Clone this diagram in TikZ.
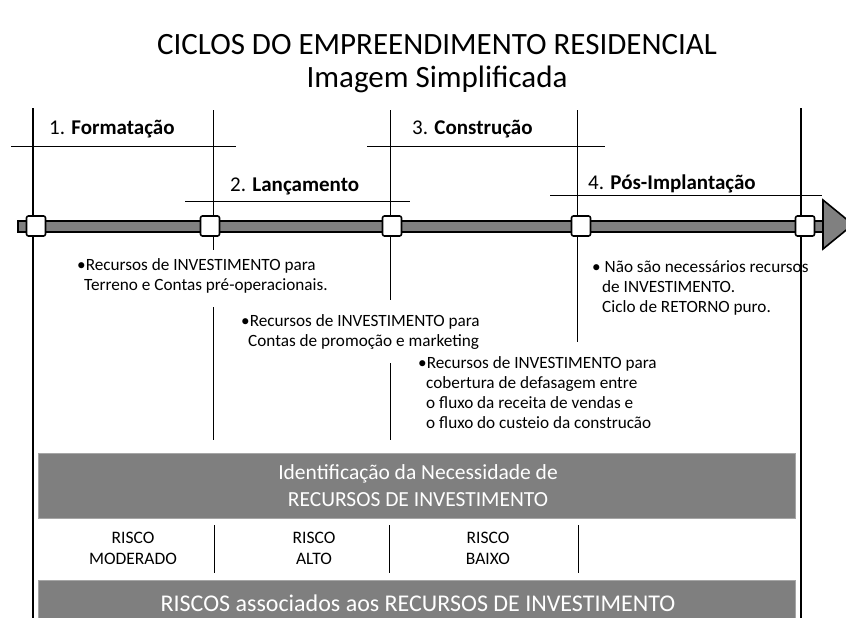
\documentclass[tikz,border=0pt]{standalone}
\usepackage{fontspec}
\setmainfont{Carlito}
\definecolor{bargray}{HTML}{808080}
\definecolor{boxgray}{HTML}{7F7F7F}
\definecolor{bandedge}{HTML}{A6A6A6}
\begin{document}
\begin{tikzpicture}[x=1pt,y=-1pt,
  thinline/.style={line width=0.8pt},
  thickline/.style={line width=2.6pt},
  milestone/.style={draw=black, line width=1.6pt, fill=white, minimum width=19pt, minimum height=20pt, rounded corners=2pt, inner sep=0pt},
  phase/.style={anchor=west, inner sep=0pt, font=\fontsize{21}{25}\selectfont},
  body/.style={anchor=north west, inner sep=0pt, align=left, font=\fontsize{17.2}{20}\selectfont},
  band/.style={fill=boxgray, draw=bandedge, line width=1pt},
  bandtext/.style={text=white, align=center, inner sep=0pt},
  risk/.style={align=center, inner sep=0pt, font=\fontsize{17.5}{21}\selectfont},
  title/.style={inner sep=0pt, font=\fontsize{31}{36}\selectfont}
  ]
\useasboundingbox (0,0) rectangle (846,618);
\clip (0,0) rectangle (846,618);

% title
\node[title] (t1) at (437,45) {CICLOS DO EMPREENDIMENTO RESIDENCIAL};
\node[title] (t2) at (437,79) {Imagem Simplificada};

% frame verticals
\draw[thickline] (33,108) -- (33,618);
\draw[thickline] (801,108) -- (801,618);

% phase separators and underlines
\draw[thinline] (11,146) -- (236,146);
\draw[thinline] (367,146) -- (605,146);
\draw[thinline] (185,201) -- (410,201);
\draw[thinline] (550,195) -- (822,195);
\draw[thinline] (213,110) -- (213,250);
\draw[thinline] (213,307) -- (213,440);
\draw[thinline] (390,110) -- (390,300);
\draw[thinline] (390,363) -- (390,440);
\draw[thinline] (577,110) -- (577,342);

% phase labels
\node[phase] (p1) at (49,129) {1. \textbf{Formatação}};
\node[phase] (p2) at (230,186) {2. \textbf{Lançamento}};
\node[phase] (p3) at (412,129) {3. \textbf{Construção}};
\node[phase] (p4) at (588,184) {4. \textbf{Pós-Implantação}};

% timeline bar and arrow
\draw[fill=bargray, line width=1.6pt] (18,221) rectangle (824,232);
\draw[fill=bargray, line width=1.6pt, line join=miter] (823,200) -- (853,224.5) -- (823,249) -- cycle;

% milestones
\node[milestone] (m1) at (36,226) {};
\node[milestone] (m2) at (210,226) {};
\node[milestone] (m3) at (392,226) {};
\node[milestone] (m4) at (581,226) {};
\node[milestone] (m5) at (805,226) {};

% description texts
\node[body] (d1) at (77,258) {•Recursos de INVESTIMENTO para\\\hspace*{7pt}Terreno e Contas pré-operacionais.};
\node[body] (d2) at (241,314) {•Recursos de INVESTIMENTO para\\\hspace*{7pt}Contas de promoção e marketing};
\node[body] (d3) at (418,356) {•Recursos de INVESTIMENTO para\\\hspace*{8pt}cobertura de defasagem entre\\\hspace*{8pt}o fluxo da receita de vendas e\\\hspace*{8pt}o fluxo do custeio da construcão};
\node[body] (d4) at (592,260) {• Não são necessários recursos\\\hspace*{10pt}de INVESTIMENTO.\\\hspace*{10pt}Ciclo de RETORNO puro.};

% band 1
\draw[band] (38,453) rectangle (795,518);
\node[bandtext, font=\fontsize{21.5}{27}\selectfont] (b1) at (418,486) {Identificação da Necessidade de\\RECURSOS DE INVESTIMENTO};

% risk row
\node[risk] (r1) at (133,548) {RISCO\\MODERADO};
\node[risk] (r2) at (314,548) {RISCO\\ALTO};
\node[risk] (r3) at (488,548) {RISCO\\BAIXO};
\draw[thinline] (214,525) -- (214,573);
\draw[thinline] (389,525) -- (389,573);
\draw[thinline] (578,525) -- (578,573);

% band 2
\draw[band] (38,580) rectangle (795,625);
\node[bandtext, font=\fontsize{24}{28}\selectfont] (b2) at (418,603) {RISCOS associados aos RECURSOS DE INVESTIMENTO};
\end{tikzpicture}
\end{document}
